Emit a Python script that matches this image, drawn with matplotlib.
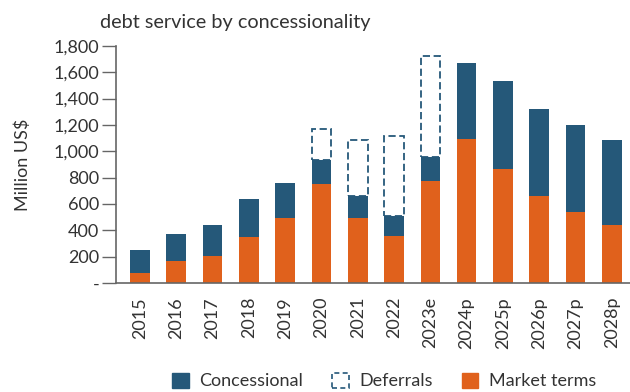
import matplotlib
matplotlib.use("Agg")
import matplotlib.pyplot as plt
from matplotlib.patches import Patch
import numpy as np

plt.rcParams['font.family'] = ['Lato', 'DejaVu Sans']

years = ['2015', '2016', '2017', '2018', '2019', '2020', '2021', '2022',
         '2023e', '2024p', '2025p', '2026p', '2027p', '2028p']
market = [76, 167, 205, 349, 494, 752, 494, 357, 775, 1094, 866, 661, 539, 440]
concessional = [174, 205, 235, 289, 265, 182, 167, 152, 182, 577, 668, 660, 661, 646]
deferrals = [0, 0, 0, 0, 0, 233, 425, 607, 767, 0, 0, 0, 0, 0]

blue = '#255879'
orange = '#e0611c'
text_col = '#333333'

def main():
    fig = plt.figure(figsize=(6.3, 3.92), dpi=100)
    ax = fig.add_axes([0.184, 0.278, 0.816, 0.605])

    x = np.arange(len(years))
    w = 0.54
    ax.bar(x, market, width=w, color=orange, label='Market terms')
    ax.bar(x, concessional, width=w, bottom=market, color=blue, label='Concessional')

    # deferred amounts drawn as dashed empty boxes on top of the stack
    base = np.array(market) + np.array(concessional)
    d = np.array(deferrals)
    m = d > 0
    ax.bar(x[m], d[m], width=w, bottom=base[m], fill=False, edgecolor=blue,
           linewidth=1.3, linestyle=(0, (4, 2)), label='Deferrals')

    ax.set_xlim(-0.66, 13.5)
    ax.set_ylim(0, 1800)
    ax.set_yticks(np.arange(0, 1801, 200))
    ax.set_yticklabels(['-'] + [f'{v:,}' for v in range(200, 1801, 200)])
    ax.set_xticks(x)
    ax.set_xticklabels(years, rotation=90)
    ax.tick_params(axis='y', length=10, width=1, color='#666666', labelsize=13,
                   labelcolor=text_col, pad=2)
    ax.tick_params(axis='x', length=0, labelsize=13, labelcolor=text_col, pad=10)
    for s in ['top', 'right']:
        ax.spines[s].set_visible(False)
    for s in ['left', 'bottom']:
        ax.spines[s].set_color('#666666')
        ax.spines[s].set_linewidth(1.2)

    ax.set_ylabel('Million US$', fontsize=13, color=text_col, labelpad=16)
    fig.text(0.159, 0.92, 'debt service by concessionality', fontsize=14.3,
             color=text_col, ha='left', va='bottom')

    handles = [Patch(facecolor=blue, edgecolor=blue),
               Patch(facecolor='none', edgecolor=blue, linestyle=(0, (3, 2)), linewidth=1.2),
               Patch(facecolor=orange, edgecolor=orange)]
    fig.legend(handles, ['Concessional', 'Deferrals', 'Market terms'], ncol=3,
               loc='lower center', bbox_to_anchor=(0.61, -0.035), frameon=False,
               fontsize=13, handlelength=0.9, handleheight=0.9,
               columnspacing=1.6, handletextpad=0.6, labelcolor=text_col)

    fig.savefig('out.png', dpi=100)

if __name__ == "__main__":
    main()
